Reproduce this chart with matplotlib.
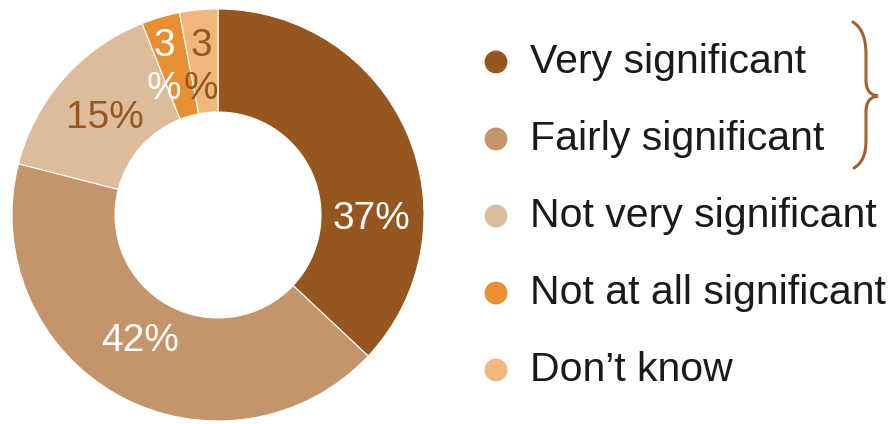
import matplotlib
matplotlib.use("Agg")
import matplotlib.pyplot as plt
from matplotlib.path import Path
from matplotlib.patches import PathPatch

plt.rcParams['font.family'] = ['Liberation Sans', 'DejaVu Sans']

categories = ["Very significant", "Fairly significant", "Not very significant",
              "Not at all significant", "Don\u2019t know"]
values = [37, 42, 15, 3, 3]
labels = ["37%", "42%", "15%", "3\n%", "3\n%"]
colors = ['#95571f', '#c4956b', '#dcbc9b', '#e88f35', '#f1b67b']
label_colors = ['white', 'white', '#95571f', 'white', '#95571f']

# label placement in pie units (radius 1)
label_pos = [(0.744, -0.02), (-0.379, -0.612), (-0.551, 0.469),
             (-0.261, 0.718), (-0.082, 0.718)]

W, H = 891, 424
fig = plt.figure(figsize=(W / 100, H / 100), dpi=100)

cx, cy, R = 218, 215, 206
ax = fig.add_axes([(cx - R) / W, (H - cy - R) / H, 2 * R / W, 2 * R / H])
wedges, _ = ax.pie(values, radius=1, colors=colors, startangle=90,
                   counterclock=False,
                   wedgeprops=dict(width=0.5, edgecolor='white', linewidth=0.8))
ax.set_xlim(-1, 1)
ax.set_ylim(-1, 1)
ax.set_aspect('equal')
for lab, (x, y), c in zip(labels, label_pos, label_colors):
    ax.text(x, y, lab, ha='center', va='center', fontsize=28, color=c,
            linespacing=1.25)

# legend, drawn in pixel coords
axl = fig.add_axes([0, 0, 1, 1])
axl.set_xlim(0, W)
axl.set_ylim(H, 0)
axl.axis('off')
rows = [62, 139, 216, 293, 370]
for cat, col, y in zip(categories, colors, rows):
    axl.scatter([496], [y], s=270, color=col, edgecolors='none')
    axl.text(530, y + 11, cat, fontsize=29.5, color='#1a1a1a', va='baseline', ha='left')

# brace grouping first two items
verts = [(853, 22), (862, 28), (866, 38), (866, 55),
         (866, 80),
         (866, 90), (870, 95), (878, 96),
         (870, 97), (866, 102), (866, 112),
         (866, 140),
         (866, 155), (862, 163), (854, 168)]
codes = [Path.MOVETO, Path.CURVE4, Path.CURVE4, Path.CURVE4,
         Path.LINETO,
         Path.CURVE4, Path.CURVE4, Path.CURVE4,
         Path.CURVE4, Path.CURVE4, Path.CURVE4,
         Path.LINETO,
         Path.CURVE4, Path.CURVE4, Path.CURVE4]
axl.add_patch(PathPatch(Path(verts, codes), facecolor='none',
                        edgecolor='#a0612a', linewidth=2.2, capstyle='round'))

fig.savefig("out.png", dpi=100)
